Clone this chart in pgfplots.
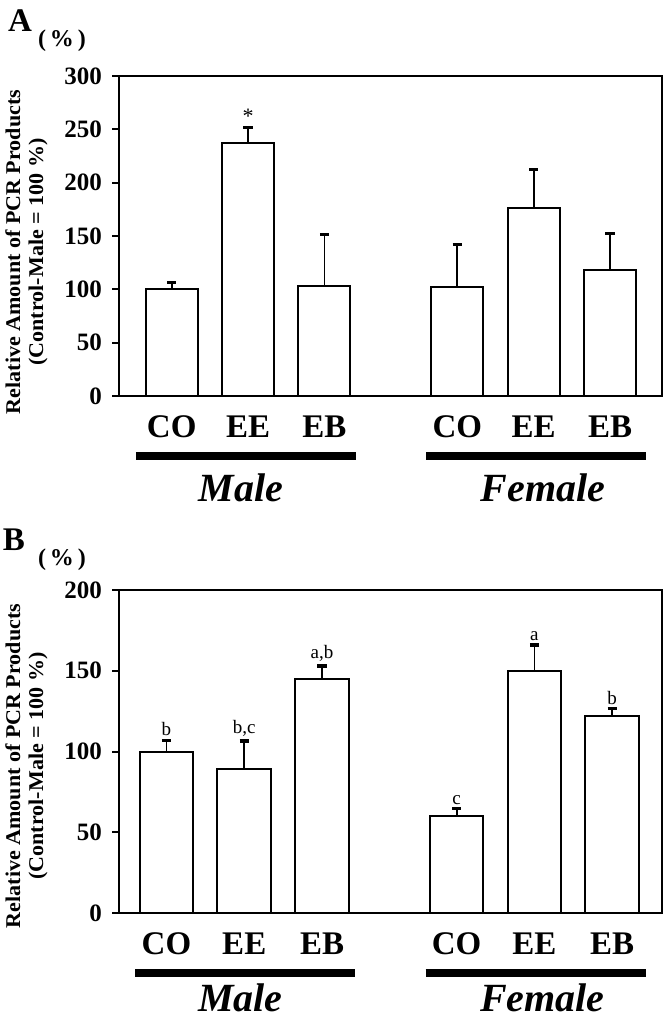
\documentclass[border=0pt]{standalone}
\usepackage{fontspec}
\setmainfont{Liberation Serif}
\newfontfamily\ylabfont[FakeStretch=1.05]{Liberation Serif}
\usepackage{pgfplots}
\pgfplotsset{compat=1.18}
\pgfplotsset{
  panel/.style={
    scale only axis, width=271.5pt, ymin=0, clip=false,
    axis line style={line width=1pt},
    tick align=outside, tick pos=left,
    major tick length=3.5pt,
    y tick style={line width=1pt, black},
    x tick style={draw=none},
    /pgf/number format/assume math mode=true,
    yticklabel style={font=\fontsize{12.5}{13}\selectfont\bfseries, xshift=-1.5pt},
    xticklabel style={font=\fontsize{16.5}{18}\selectfont\bfseries, anchor=base, yshift=-17pt},
    xticklabels={CO,EE,EB,CO,EE,EB},
  },
  bars/.style={
    ybar, bar width=0.68, bar shift=0pt, draw=black, line width=1pt, fill=white,
    error bars/y dir=plus, error bars/y explicit,
    error bars/error bar style={line width=0.9pt, black},
    error bars/error mark options={rotate=90, line width=1.6pt, mark size=2.3pt, black},
  },
}
\begin{document}
\begin{tikzpicture}
\useasboundingbox (0,0) rectangle (334.5pt,-510pt);
% Panel A
\begin{axis}[panel, at={(59.5pt,-198pt)}, anchor=south west, height=160pt,
  xmin=-0.69, xmax=6.42, ymax=300, ytick={0,50,100,150,200,250,300},
  xtick={0,1,2,3.74,4.74,5.74}]
\addplot[bars] coordinates {
 (0,100) +- (0,6.5)
 (1,237.5) +- (0,14.5)
 (2,103.5) +- (0,48)
 (3.74,102) +- (0,40)
 (4.74,176.5) +- (0,35.5)
 (5.74,118) +- (0,34.5)
};
\node[anchor=south, font=\fontsize{11}{12}\selectfont, inner sep=0pt] at (axis cs:1,255) {*};
\draw[line width=4.3pt] ([yshift=-30pt]axis cs:-0.47,0) -- ([yshift=-30pt]axis cs:2.41,0);
\draw[line width=4.3pt] ([yshift=-30pt]axis cs:3.33,0) -- ([yshift=-30pt]axis cs:6.21,0);
\node[font=\fontsize{20}{22}\selectfont\bfseries\itshape, inner sep=0pt] at ([yshift=-46pt]axis cs:0.91,0) {Male};
\node[font=\fontsize{20}{22}\selectfont\bfseries\itshape, inner sep=0pt] at ([yshift=-46pt]axis cs:4.86,0) {Female};
\end{axis}
% Panel B
\begin{axis}[panel, at={(59.5pt,-456.5pt)}, anchor=south west, height=161.5pt,
  xmin=-0.61, xmax=6.37, ymax=200, ytick={0,50,100,150,200},
  xtick={0,1,2,3.73,4.73,5.73}]
\addplot[bars, bar width=0.69] coordinates {
 (0,100) +- (0,7)
 (1,89) +- (0,17.5)
 (2,145) +- (0,8)
 (3.73,60) +- (0,4.5)
 (4.73,150) +- (0,16)
 (5.73,122) +- (0,4.5)
};
\foreach \xx/\yy/\tt in {0/107/b, 1/106.5/{b,c}, 2/153/{a,b}, 3.73/64.5/c, 4.73/166/a, 5.73/126.5/b}{
  \edef\tmp{\noexpand\node[anchor=south, font=\noexpand\fontsize{9.5}{10}\noexpand\selectfont, inner sep=2pt] at (axis cs:\xx,\yy) {\tt};}\tmp
}
\draw[line width=4.3pt] ([yshift=-30pt]axis cs:-0.40,0) -- ([yshift=-30pt]axis cs:2.42,0);
\draw[line width=4.3pt] ([yshift=-30pt]axis cs:3.33,0) -- ([yshift=-30pt]axis cs:6.16,0);
\node[font=\fontsize{20}{22}\selectfont\bfseries\itshape, inner sep=0pt] at ([yshift=-42.5pt]axis cs:0.95,0) {Male};
\node[font=\fontsize{20}{22}\selectfont\bfseries\itshape, inner sep=0pt] at ([yshift=-42.5pt]axis cs:4.83,0) {Female};
\end{axis}
% panel letters and units
\node[font=\fontsize{16.5}{18}\selectfont\bfseries] at (10pt,-10.5pt) {A};
\node[font=\fontsize{12}{13}\selectfont\bfseries] at (31pt,-20.5pt) {(\,\%\,)};
\node[font=\fontsize{16.5}{18}\selectfont\bfseries] at (7pt,-270pt) {B};
\node[font=\fontsize{12}{13}\selectfont\bfseries] at (31pt,-280pt) {(\,\%\,)};
% y labels
\node[rotate=90, align=center, font=\fontsize{10.5}{11.5}\ylabfont\bfseries] at (13.25pt,-126pt) {Relative Amount of PCR Products\\(Control-Male = 100 \%)};
\node[rotate=90, align=center, font=\fontsize{10.5}{11.5}\ylabfont\bfseries] at (13.25pt,-383pt) {Relative Amount of PCR Products\\(Control-Male = 100 \%)};
\end{tikzpicture}
\end{document}
